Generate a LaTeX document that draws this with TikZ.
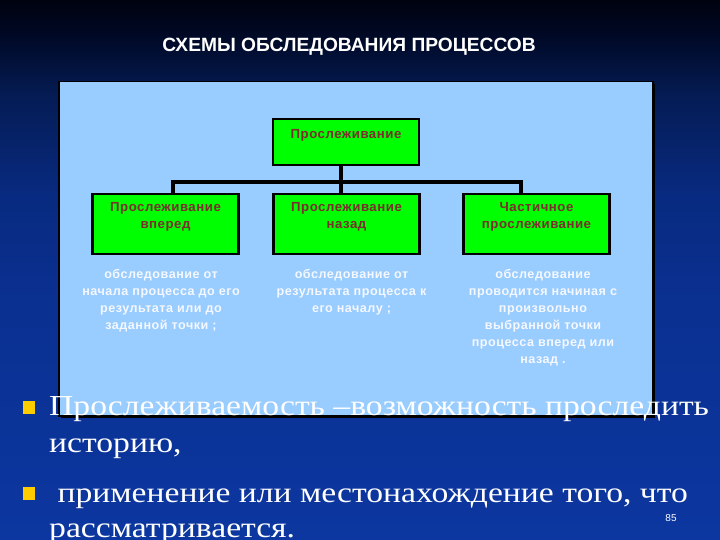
\documentclass[tikz,border=0pt]{standalone}
\usepackage{fontspec}
\setmainfont{Liberation Sans}
\newfontfamily\boxfont[LetterSpace=4]{Liberation Sans}
\newfontfamily\titlefont{Liberation Sans}
\newfontfamily\bulfont[FakeStretch=1.16]{Liberation Serif}
\definecolor{bgT}{RGB}{0,2,15}
\definecolor{bgE}{RGB}{0,8,35}
\definecolor{bgD}{RGB}{5,28,85}
\definecolor{bgM}{RGB}{8,42,128}
\definecolor{bgB}{RGB}{10,48,145}
\definecolor{bgC}{RGB}{12,55,160}
\definecolor{panel}{RGB}{153,204,255}
\definecolor{gbox}{RGB}{0,255,0}
\definecolor{redtxt}{RGB}{125,45,45}
\definecolor{desctxt}{RGB}{245,248,255}
\definecolor{bullet}{RGB}{255,204,0}
\pgfdeclareverticalshading{bgshade}{100bp}{color(0bp)=(bgC); color(25bp)=(bgC); color(47bp)=(bgB); color(57bp)=(bgM); color(66bp)=(bgD); color(72bp)=(bgE); color(75bp)=(bgT); color(100bp)=(bgT)}
\tikzset{
  greenbox/.style={draw=black, line width=2.5pt, fill=gbox, minimum width=146pt, minimum height=60pt, inner sep=0pt},
  topbox/.style={greenbox, minimum height=46pt},
  boxtext/.style={text=redtxt, font=\boxfont\bfseries\fontsize{13.2}{17}\selectfont, align=center, inner sep=0pt, anchor=base},
  desc/.style={text=desctxt, font=\boxfont\bfseries\fontsize{12.6}{17}\selectfont, align=center, inner sep=0pt, anchor=base},
  conn/.style={draw=black, line width=3.5pt},
  bultext/.style={text=white, font=\bulfont\fontsize{29}{37}\selectfont, inner sep=0pt, anchor=base west},
  bulsq/.style={fill=bullet, draw=none, minimum width=12pt, minimum height=13pt, inner sep=0pt}
}
\begin{document}
\begin{tikzpicture}[x=1pt,y=-1pt]
\useasboundingbox (0,0) rectangle (720,540);
\shade[shading=bgshade] (0,0) rectangle (720,540);
% title
\node[text=white, font=\titlefont\bfseries\fontsize{19.2}{22}\selectfont, inner sep=0pt, anchor=base] (title) at (349,52) {СХЕМЫ ОБСЛЕДОВАНИЯ ПРОЦЕССОВ};
% panel with shadow
\fill[black] (61,84) rectangle (655,418);
\node[draw=black, line width=1.5pt, fill=panel, minimum width=594pt, minimum height=334pt, inner sep=0pt, anchor=north west] (panel) at (58,81) {};
% boxes
\node[topbox] (top) at (346,142) {};
\node[boxtext] (toptxt) at (346,138.3) {Прослеживание};
\node[greenbox] (c1) at (165.5,224) {};
\node[greenbox] (c2) at (346.5,224) {};
\node[greenbox] (c3) at (536.5,224) {};
\node[boxtext] (t1) at (165.5,228.5) {Прослеживание\\вперед};
\node[boxtext] (t2) at (346.5,228.5) {Прослеживание\\назад};
\node[boxtext] (t3) at (536.5,228.5) {Частичное\\прослеживание};
% connectors
\coordinate (jm) at (341,182);
\coordinate (jl) at (173,182);
\coordinate (jr) at (521,182);
\draw[conn] (top.south -| jm) -- (jm);
\draw[conn] (c1.north -| jl) -- (jl) -- (jr) -- (c3.north -| jr);
\draw[conn] (jm) -- (c2.north -| jm);
% descriptions
\node[desc] (d1) at (161,329) {обследование от\\начала процесса до его\\результата или до\\заданной точки ;};
\node[desc] (d2) at (351.5,312) {обследование от\\результата процесса к\\его началу ;};
\node[desc] (d3) at (543,363) {обследование\\проводится начиная с\\произвольно\\выбранной точки\\процесса вперед или\\назад .};
% bullets
\node[bulsq] (b1) at (29,407.5) {};
\node[bulsq] (b2) at (29,493.5) {};
\node[bultext] (l1) at (49,415) {Прослеживаемость –возможность проследить};
\node[bultext] (l2) at (49,452) {историю,};
\node[bultext] (l3) at (49,502) {\ применение или местонахождение того, что};
\node[bultext] (l4) at (49,537) {рассматривается.};
\node[text=white, font=\fontsize{10}{12}\selectfont, inner sep=0pt] (pg) at (671,518) {85};
\end{tikzpicture}
\end{document}
